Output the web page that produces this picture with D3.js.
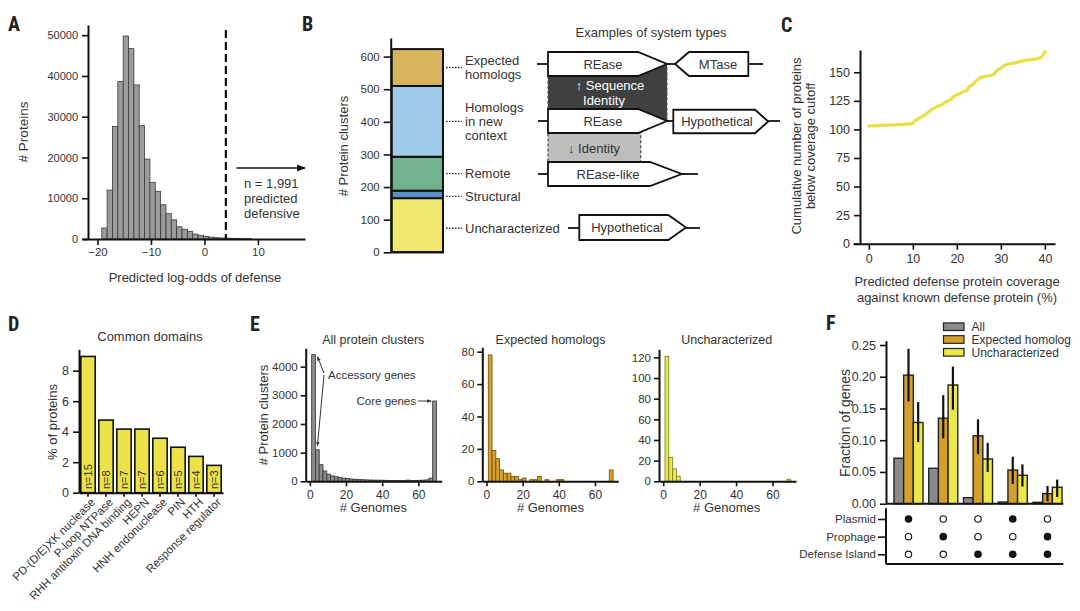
<!DOCTYPE html>
<html><head><meta charset="utf-8">
<script src="https://cdn.jsdelivr.net/npm/d3@7"></script>
<style>
body{margin:0;background:#fff;}
svg{font-family:"Liberation Sans",Arial,Helvetica,sans-serif;}
</style></head><body>
<svg id="fig" width="1080" height="611"></svg>
<script>
// ================= DATA =================
// Panel A: histogram of predicted log-odds
const aBinStart = -19.2, aBinWidth = 1.0;
const aCounts = [2700, 12000, 27600, 38600, 49800, 46700, 37800, 27800, 19600, 13900, 11700, 8400, 6200, 4700, 3000, 2400, 1900, 1200, 900, 650, 450, 320, 250, 200, 160, 120, 90, 60];
const aCutoff = 4;
const aXTicks = [-20, -10, 0, 10];
const aYTicks = [0, 10000, 20000, 30000, 40000, 50000];
const aNote = ["n = 1,991", "predicted", "defensive"];

// Panel B: stacked protein clusters
const bCategories = ["Uncharacterized", "Structural", "Remote", "Homologs in new context", "Expected homologs"];
const bLabels = [["Uncharacterized"], ["Structural"], ["Remote"], ["Homologs", "in new", "context"], ["Expected", "homologs"]];
const bCounts = [166, 23, 104, 217, 113];
const bColors = ["#f1e96f", "#5b8ec6", "#72b18f", "#a1c9ea", "#dab45c"];
const bYTicks = [0, 100, 200, 300, 400, 500, 600];

// Panel C: cumulative curve
const cX = [0, 2, 4, 6, 8, 9.8, 10.5, 11.5, 12.5, 13.5, 14.5, 15.5, 16.5, 17.5, 18.5, 19.5, 20.5, 21.5, 22.3, 22.8, 23.5, 24.5, 25.5, 26.5, 27.5, 28.5, 29.2, 30, 31, 32, 33.5, 35, 36.5, 38, 39, 39.5, 40];
const cY = [103, 103.3, 103.7, 104, 104.5, 105, 107.5, 110, 112, 115, 118, 120, 121.5, 124, 126, 129.5, 131, 133, 134, 137.5, 139, 143, 145.5, 146.5, 147, 148.5, 152, 153.5, 156.5, 157.5, 158.5, 160, 161, 161.5, 163, 164.5, 168];
const cXTicks = [0, 10, 20, 30, 40];
const cYTicks = [0, 25, 50, 75, 100, 125, 150];

// Panel D: common domains
const dDomains = ["PD-(D/E)XK nuclease", "P-loop NTPase", "RHH antitoxin DNA binding", "HEPN", "HNH endonuclease", "PIN", "HTH", "Response regulator"];
const dN = [15, 8, 7, 7, 6, 5, 4, 3];
const dPct = [8.93, 4.76, 4.17, 4.17, 3.57, 2.98, 2.38, 1.79];
const dYTicks = [0, 2, 4, 6, 8];

// Panel E: genome-count histograms (33 bins from 1 to 70 genomes)
const eBinLo = 1, eBinHi = 70, eBinN = 33;
const eAll = [4420, 1100, 580, 360, 250, 190, 160, 130, 110, 95, 80, 70, 60, 55, 50, 45, 42, 40, 38, 35, 30, 28, 28, 26, 25, 40, 30, 30, 35, 40, 50, 110, 2800];
const eExp = [78, 19, 14, 7, 5, 5, 3, 3, 1, 2, 0, 1, 1, 3, 0, 1, 0, 0, 1, 1, 0, 0, 0, 0, 0, 0, 0, 0, 0, 0, 0, 0, 7];
const eUnc = [121, 23, 12, 5, 0, 0, 0, 0, 0, 0, 0, 0, 0, 0, 0, 0, 0, 0, 0, 0, 0, 0, 0, 0, 0, 0, 0, 0, 0, 0, 0, 0, 2];
const eXTicks = [0, 20, 40, 60];
const eAllYTicks = [0, 1000, 2000, 3000, 4000];
const eExpYTicks = [0, 20, 40, 60, 80];
const eUncYTicks = [0, 20, 40, 60, 80, 100, 120];

// Panel F: fraction of genes by context
const fGroups = ["P", "Ph", "DI", "P+DI", "Ph+DI"];
const fSeries = ["All", "Expected homolog", "Uncharacterized"];
const fColors = ["#8a8a8a", "#d4a02a", "#ece84a"];
const fAll = [0.0716, 0.0558, 0.0095, 0.0027, 0.0022];
const fExp = [0.2025, 0.1347, 0.107, 0.053, 0.0158];
const fUnc = [0.128, 0.187, 0.0705, 0.0448, 0.0259];
const fExpLo = [0.161, 0.103, 0.078, 0.031, 0.004];
const fExpHi = [0.244, 0.171, 0.133, 0.074, 0.028];
const fUncLo = [0.097, 0.148, 0.050, 0.027, 0.0105];
const fUncHi = [0.160, 0.216, 0.096, 0.062, 0.038];
const fRows = ["Plasmid", "Prophage", "Defense Island"];
const fPlasmid = [1, 0, 0, 1, 0];
const fProphage = [0, 1, 0, 0, 1];
const fIsland = [0, 0, 1, 1, 1];
const fYTicks = [0, 0.05, 0.10, 0.15, 0.20, 0.25];

// ================= DRAWING =================
const svg = d3.select("#fig");
const TXT = "#333";

function styleAxis(g, fs) {
  g.attr("font-family", null).attr("font-size", null);
  g.select(".domain").attr("stroke", "#111").attr("stroke-width", 2);
  g.selectAll(".tick line").attr("stroke", "#111").attr("stroke-width", 1.6);
  g.selectAll(".tick text").attr("fill", TXT).attr("font-size", fs);
}
function text(g, x, y, s, o = {}) {
  return g.append("text").attr("x", x).attr("y", y).text(s)
    .attr("font-size", o.fs || 13).attr("fill", o.fill || TXT)
    .attr("text-anchor", o.anchor || "start").attr("font-weight", o.fw || null);
}
function vtext(g, x, y, s, fs) {
  return g.append("text").attr("transform", `translate(${x},${y}) rotate(-90)`)
    .attr("text-anchor", "middle").attr("font-size", fs).attr("fill", TXT).text(s);
}

const defs = svg.append("defs");
defs.append("marker").attr("id", "ah").attr("viewBox", "0 0 10 10").attr("refX", 9).attr("refY", 5)
  .attr("markerWidth", 6).attr("markerHeight", 6).attr("orient", "auto-start-reverse")
  .append("path").attr("d", "M0,1 L10,5 L0,9 z").attr("fill", "#111");
defs.append("marker").attr("id", "ahs").attr("viewBox", "0 0 10 10").attr("refX", 9).attr("refY", 5)
  .attr("markerWidth", 4.5).attr("markerHeight", 4.5).attr("orient", "auto")
  .append("path").attr("d", "M0,1 L10,5 L0,9 z").attr("fill", "#333");

const intFmt = d3.format("d");

// ---------- Panel A ----------
{
  const g = svg.append("g");
  const xA = d3.scaleLinear().domain([-22.9, 18.8]).range([82, 305]);
  const yA = d3.scaleLinear().domain([0, 52500]).range([239, 25]);
  const lefts = aCounts.map((_, i) => aBinStart + i * aBinWidth);
  g.selectAll("rect").data(aCounts).join("rect")
    .attr("x", (d, i) => xA(lefts[i])).attr("width", (d, i) => xA(lefts[i] + aBinWidth) - xA(lefts[i]))
    .attr("y", d => yA(d)).attr("height", d => yA(0) - yA(d))
    .attr("fill", "#9b9b9b").attr("stroke", "#3a3a3a").attr("stroke-width", 0.8);
  styleAxis(g.append("g").attr("transform", "translate(88,0)")
    .call(d3.axisLeft(yA).tickValues(aYTicks).tickSize(6).tickPadding(4).tickSizeOuter(0).tickFormat(intFmt)), 11);
  styleAxis(g.append("g").attr("transform", "translate(0,239)")
    .call(d3.axisBottom(xA).tickValues(aXTicks).tickSize(6).tickPadding(3).tickSizeOuter(0)
      .tickFormat(d => d < 0 ? "\u2212" + Math.abs(d) : d)), 11.5);
  g.append("line").attr("x1", xA(aCutoff)).attr("x2", xA(aCutoff)).attr("y1", 30).attr("y2", 239)
    .attr("stroke", "#111").attr("stroke-width", 2.2).attr("stroke-dasharray", "8,4");
  g.append("line").attr("x1", xA(6)).attr("x2", 305).attr("y1", 168).attr("y2", 168)
    .attr("stroke", "#111").attr("stroke-width", 1.5).attr("marker-end", "url(#ah)");
  aNote.forEach((s, i) => text(g, 244, 188 + i * 15, s, { fs: 13 }));
  text(g, 195, 282, "Predicted log-odds of defense", { fs: 13, anchor: "middle" });
  vtext(g, 28, 132, "# Proteins", 13.5);
}

// ---------- Panel B ----------
{
  const g = svg.append("g");
  const yB = d3.scaleLinear().domain([0, 657]).range([252.3, 38]);
  const xB = d3.scaleBand().domain(["clusters"]).range([390.7, 444]).paddingOuter(0.02);
  const cum = Array.from(d3.cumsum(bCounts));
  const lows = cum.map((c, i) => c - bCounts[i]);
  g.selectAll("rect").data(bCounts).join("rect")
    .attr("x", xB("clusters")).attr("width", xB.bandwidth())
    .attr("y", (d, i) => yB(cum[i])).attr("height", (d, i) => yB(lows[i]) - yB(cum[i]))
    .attr("fill", (d, i) => bColors[i]).attr("stroke", "#111").attr("stroke-width", 2);
  styleAxis(g.append("g").attr("transform", "translate(390.7,0)")
    .call(d3.axisLeft(yB).tickValues(bYTicks).tickSize(7).tickPadding(4).tickSizeOuter(0)), 11.5);
  g.append("line").attr("x1", 390.7).attr("x2", 444).attr("y1", yB(0)).attr("y2", yB(0))
    .attr("stroke", "#111").attr("stroke-width", 2);
  vtext(g, 348, 146, "# Protein clusters", 13);
  bCounts.forEach((d, i) => {
    const ym = yB((cum[i] + lows[i]) / 2) + (i === 0 ? 3 : 0) + (i === 1 ? 2 : 0);
    g.append("line").attr("x1", 446).attr("x2", 462).attr("y1", ym).attr("y2", ym)
      .attr("stroke", "#333").attr("stroke-width", 1.3).attr("stroke-dasharray", "1.6,1.4");
    const lines = bLabels[i];
    lines.forEach((s, k) => text(g, 465, ym + (k - (lines.length - 1) / 2) * 14 + 4.6, s, { fs: 13 }));
  });
  text(g, 651, 37, "Examples of system types", { fs: 13, anchor: "middle" });

  // gene diagrams (schematic)
  const rArrow = (x0, x1, tip, yc, h) => `M${x0},${yc - h / 2}L${x1},${yc - h / 2}L${tip},${yc}L${x1},${yc + h / 2}L${x0},${yc + h / 2}Z`;
  const lArrow = (tip, x0, x1, yc, h) => `M${tip},${yc}L${x0},${yc - h / 2}L${x1},${yc - h / 2}L${x1},${yc + h / 2}L${x0},${yc + h / 2}Z`;
  const seg = (x1, x2, y) => g.append("line").attr("x1", x1).attr("x2", x2).attr("y1", y).attr("y2", y)
    .attr("stroke", "#111").attr("stroke-width", 1.8);
  g.append("path").attr("d", "M548,76L638,76L667,64L667,121L638,109L548,109Z").attr("fill", "#404040")
    .attr("stroke", "#555").attr("stroke-width", 1.2).attr("stroke-dasharray", "3,2");
  g.append("path").attr("d", "M548,133L640.7,133L640.7,162L548,162Z").attr("fill", "#bdbdbd")
    .attr("stroke", "#444").attr("stroke-width", 1.2).attr("stroke-dasharray", "3,2");
  const box = d => g.append("path").attr("d", d).attr("fill", "#fff").attr("stroke", "#111").attr("stroke-width", 1.8);
  seg(537, 548, 64); seg(667, 675, 64); seg(748.3, 763, 64);
  box(rArrow(548, 638, 667, 64, 24)); box(lArrow(675, 689, 748.3, 64, 24));
  text(g, 603, 68.5, "REase", { anchor: "middle" }); text(g, 718, 68.5, "MTase", { anchor: "middle" });
  seg(538, 548, 121); seg(667, 673.3, 121); seg(768.3, 780, 121);
  box(rArrow(548, 638, 667, 121, 24)); box(rArrow(673.3, 755, 768.3, 121.5, 23.5));
  text(g, 603, 125.5, "REase", { anchor: "middle" }); text(g, 717, 126, "Hypothetical", { anchor: "middle" });
  seg(538, 548, 174); seg(681.7, 698, 174);
  box(rArrow(548, 650, 681.7, 174, 24));
  text(g, 608, 178.5, "REase-like", { anchor: "middle" });
  seg(568, 579.3, 228); seg(686, 700, 228);
  box(rArrow(579.3, 668.3, 686, 227.5, 25));
  text(g, 627, 232, "Hypothetical", { anchor: "middle" });
  text(g, 610, 89.5, "\u2191 Sequence", { anchor: "middle", fill: "#fff" });
  text(g, 604, 104.5, "Identity", { anchor: "middle", fill: "#fff" });
  text(g, 594, 152.5, "\u2193 Identity", { anchor: "middle" });
}

// ---------- Panel C ----------
{
  const g = svg.append("g");
  const xC = d3.scaleLinear().domain([-3.6, 42.3]).range([853, 1055]);
  const yC = d3.scaleLinear().domain([0, 169.5]).range([243.7, 50]);
  styleAxis(g.append("g").attr("transform", "translate(860,0)")
    .call(d3.axisLeft(yC).tickValues(cYTicks).tickSize(6).tickPadding(4).tickSizeOuter(0)), 12.5);
  styleAxis(g.append("g").attr("transform", "translate(0,243.7)")
    .call(d3.axisBottom(xC).tickValues(cXTicks).tickSize(6).tickPadding(4).tickSizeOuter(0)), 12.5);
  const line = d3.line().x((d, i) => xC(cX[i])).y(d => yC(d)).curve(d3.curveLinear);
  g.append("path").attr("d", line(cY)).attr("fill", "none").attr("stroke", "#e8df45")
    .attr("stroke-width", 3.2).attr("stroke-linejoin", "round").attr("stroke-linecap", "round");
  text(g, 957, 286, "Predicted defense protein coverage", { anchor: "middle" });
  text(g, 957, 302, "against known defense protein (%)", { anchor: "middle" });
  vtext(g, 801, 146, "Cumulative number of proteins", 13);
  vtext(g, 815, 146, "below coverage cutoff", 13);
}

// ---------- Panel D ----------
{
  const g = svg.append("g");
  const xD = d3.scaleBand().domain(dDomains).range([79, 223]).paddingInner(0.2).paddingOuter(0.1);
  const yD = d3.scaleLinear().domain([0, 9.4]).range([492.7, 349.3]);
  g.selectAll("rect").data(dPct).join("rect")
    .attr("x", (d, i) => xD(dDomains[i])).attr("width", xD.bandwidth())
    .attr("y", d => yD(d)).attr("height", d => yD(0) - yD(d))
    .attr("fill", "#ebe24a").attr("stroke", "#111").attr("stroke-width", 1.6);
  styleAxis(g.append("g").attr("transform", "translate(79,0)")
    .call(d3.axisLeft(yD).tickValues(dYTicks).tickSize(6).tickPadding(4).tickSizeOuter(0)), 12.5);
  const xa = g.append("g").attr("transform", "translate(0,492.7)")
    .call(d3.axisBottom(xD).tickSize(4).tickFormat("").tickSizeOuter(0));
  styleAxis(xa, 11);
  dDomains.forEach((s, i) => {
    const cx = xD(s) + xD.bandwidth() / 2;
    g.append("text").attr("transform", `translate(${cx + 5},${500}) rotate(-45)`)
      .attr("text-anchor", "end").attr("font-size", 11.5).attr("fill", TXT).attr("dy", "0.35em").text(s);
    g.append("text").attr("transform", `translate(${cx + 4},${489}) rotate(-90)`)
      .attr("text-anchor", "start").attr("font-size", 11).attr("fill", TXT).text("n=" + dN[i]);
  });
  text(g, 150, 341, "Common domains", { anchor: "middle" });
  vtext(g, 57, 422, "% of proteins", 13);
}

// ---------- Panel E ----------
{
  const edges = d3.range(eBinN + 1).map(i => eBinLo + i * (eBinHi - eBinLo) / eBinN);
  const panels = [
    { vals: eAll, x0: 305.7, x1: 441.7, yTop: 348.3, yMax: 4640, ticks: eAllYTicks, fill: "#8c8c8c", stroke: "#333", title: "All protein clusters", tx: 373.3 },
    { vals: eExp, x0: 482.3, x1: 618.3, yTop: 347.3, yMax: 82.7, ticks: eExpYTicks, fill: "#d6a02a", stroke: "#6a4a10", title: "Expected homologs", tx: 550.5 },
    { vals: eUnc, x0: 659, x1: 796, yTop: 349.3, yMax: 127.8, ticks: eUncYTicks, fill: "#ece84a", stroke: "#77772a", title: "Uncharacterized", tx: 726.7 }
  ];
  panels.forEach((p, k) => {
    const g = svg.append("g");
    const x = d3.scaleLinear().domain([-2.3, 72.9]).range([p.x0, p.x1]);
    const y = d3.scaleLinear().domain([0, p.yMax]).range([481.3, p.yTop]);
    const data = p.vals.map((v, i) => ({ v, i })).filter(d => d.v > 0);
    g.selectAll("rect").data(data).join("rect")
      .attr("x", d => x(edges[d.i])).attr("width", d => x(edges[d.i + 1]) - x(edges[d.i]))
      .attr("y", d => y(d.v)).attr("height", d => y(0) - y(d.v))
      .attr("fill", p.fill).attr("stroke", p.stroke).attr("stroke-width", 0.8);
    styleAxis(g.append("g").attr("transform", `translate(${p.x0},0)`)
      .call(d3.axisLeft(y).tickValues(p.ticks).tickSize(5).tickPadding(3).tickSizeOuter(0).tickFormat(intFmt)), 11.5);
    styleAxis(g.append("g").attr("transform", "translate(0,481.3)")
      .call(d3.axisBottom(x).tickValues(eXTicks).tickSize(5).tickPadding(4).tickSizeOuter(0)), 12);
    text(g, p.tx, 344, p.title, { fs: 12.5, anchor: "middle" });
    text(g, p.tx, 512, "# Genomes", { fs: 13, anchor: "middle" });
    if (k === 0) {
      vtext(g, 268, 415, "# Protein clusters", 13);
      const ex = x(edges[1]) + 2;
      g.append("line").attr("x1", 324).attr("y1", 373).attr("x2", ex).attr("y2", y(p.vals[0]) + 2)
        .attr("stroke", "#333").attr("stroke-width", 1).attr("marker-end", "url(#ahs)");
      g.append("line").attr("x1", 324).attr("y1", 375).attr("x2", ex).attr("y2", y(p.vals[1]) - 4)
        .attr("stroke", "#333").attr("stroke-width", 1).attr("marker-end", "url(#ahs)");
      text(g, 328, 379, "Accessory genes", { fs: 11.5 });
      const cy = y(p.vals[eBinN - 1]);
      text(g, 416, cy + 4, "Core genes", { fs: 11.5, anchor: "end" });
      g.append("line").attr("x1", 418).attr("y1", cy).attr("x2", x(edges[eBinN - 1]) - 1.5).attr("y2", cy)
        .attr("stroke", "#333").attr("stroke-width", 1).attr("marker-end", "url(#ahs)");
    }
  });
}

// ---------- Panel F ----------
{
  const g = svg.append("g");
  const xF = d3.scaleBand().domain(fGroups).range([890.5, 1065.5]).paddingInner(0.165).paddingOuter(0.1);
  const xS = d3.scaleBand().domain(fSeries).range([0, xF.bandwidth()]);
  const yF = d3.scaleLinear().domain([0, 0.2568]).range([503.7, 340.7]);
  const vals = [fAll, fExp, fUnc];
  fSeries.forEach((s, si) => {
    g.selectAll(null).data(vals[si]).join("rect")
      .attr("x", (d, i) => xF(fGroups[i]) + xS(s)).attr("width", xS.bandwidth())
      .attr("y", d => yF(d)).attr("height", d => yF(0) - yF(d))
      .attr("fill", fColors[si]).attr("stroke", "#222").attr("stroke-width", 1.4);
  });
  const errs = [[fSeries[1], fExpLo, fExpHi], [fSeries[2], fUncLo, fUncHi]];
  errs.forEach(([s, lo, hi]) => {
    g.selectAll(null).data(lo).join("line")
      .attr("x1", (d, i) => xF(fGroups[i]) + xS(s) + xS.bandwidth() / 2)
      .attr("x2", (d, i) => xF(fGroups[i]) + xS(s) + xS.bandwidth() / 2)
      .attr("y1", d => yF(d)).attr("y2", (d, i) => yF(hi[i]))
      .attr("stroke", "#111").attr("stroke-width", 2.2);
  });
  styleAxis(g.append("g").attr("transform", "translate(886,0)")
    .call(d3.axisLeft(yF).tickValues(fYTicks).tickSize(6).tickPadding(4).tickSizeOuter(0).tickFormat(d3.format(".2f"))), 12.5);
  g.append("line").attr("x1", 886).attr("x2", 1063.3).attr("y1", yF(0)).attr("y2", yF(0))
    .attr("stroke", "#111").attr("stroke-width", 2);
  vtext(g, 850, 423, "Fraction of genes", 14);
  fSeries.forEach((s, i) => {
    const ly = 326.7 + i * 12.8;
    g.append("rect").attr("x", 943.5).attr("y", ly - 3.8).attr("width", 20.5).attr("height", 7.6)
      .attr("fill", fColors[i]).attr("stroke", "#222").attr("stroke-width", 1.2);
    text(g, 971.5, ly + 4.2, s, { fs: 12 });
  });
  const yR = d3.scalePoint().domain(fRows).range([519, 554.3]);
  const mat = [fPlasmid, fProphage, fIsland];
  const ra = g.append("g").attr("transform", "translate(886,0)")
    .call(d3.axisLeft(yR).tickSize(8).tickPadding(2).tickSizeOuter(0));
  styleAxis(ra, 11.5);
  ra.select(".domain").remove();
  g.append("line").attr("x1", 886).attr("x2", 886).attr("y1", 508.3).attr("y2", 564).attr("stroke", "#111").attr("stroke-width", 2);
  g.append("line").attr("x1", 886).attr("x2", 1063.3).attr("y1", 564).attr("y2", 564).attr("stroke", "#111").attr("stroke-width", 2);
  mat.forEach((row, ri) => {
    g.selectAll(null).data(row).join("circle")
      .attr("cx", (d, i) => xF(fGroups[i]) + xF.bandwidth() / 2).attr("cy", yR(fRows[ri]))
      .attr("r", d => d ? 3.8 : 3.2).attr("fill", d => d ? "#111" : "#fff")
      .attr("stroke", "#111").attr("stroke-width", d => d ? 0 : 1.1);
  });
}

// ---------- Panel letters ----------
[["A", 8, 31], ["B", 302, 31], ["C", 781, 32], ["D", 8, 331], ["E", 250, 331], ["F", 826, 330]].forEach(([s, x, y]) => {
  svg.append("text").attr("x", x).attr("y", y).text(s)
    .attr("font-family", '"Liberation Sans Narrow","Roboto Condensed","Liberation Sans",Arial,sans-serif')
    .attr("font-weight", "bold").attr("font-size", 20).attr("fill", "#222");
});
</script>
</body></html>
